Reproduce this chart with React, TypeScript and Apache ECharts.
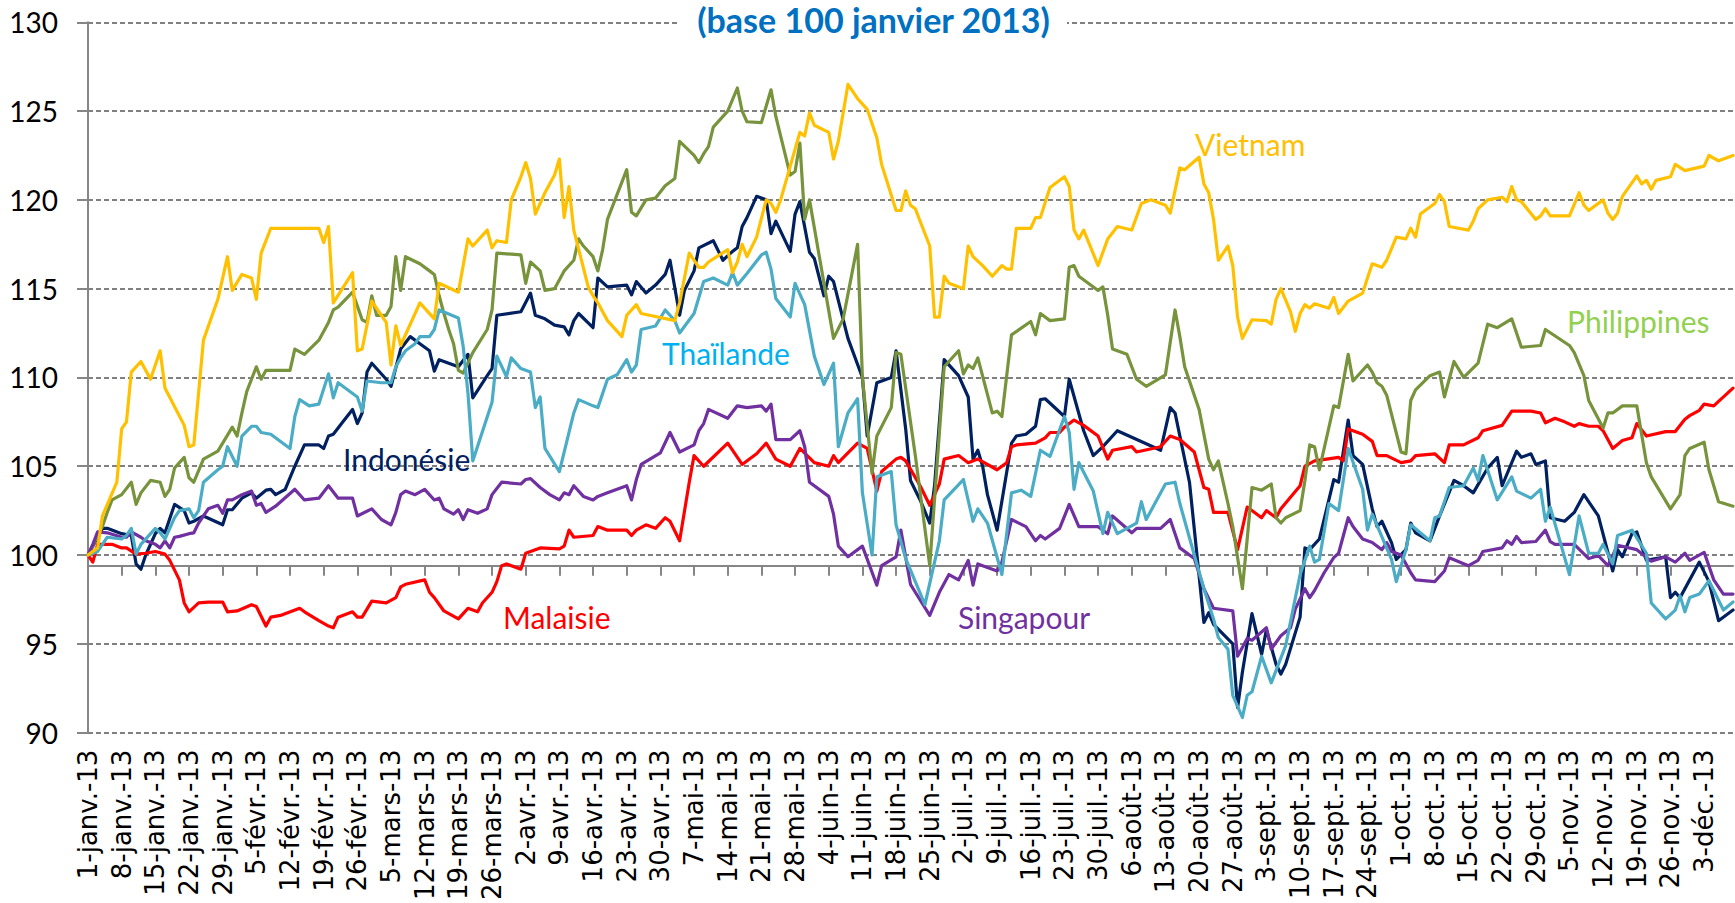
import React, { useEffect, useRef } from "react";
import * as echarts from "echarts";

// Axe des x : jours écoulés depuis le 1er janvier 2013 (0 = 1-janv.-13)
const tickLabels = [
  "1-janv.-13", "8-janv.-13", "15-janv.-13", "22-janv.-13", "29-janv.-13",
  "5-févr.-13", "12-févr.-13", "19-févr.-13", "26-févr.-13",
  "5-mars-13", "12-mars-13", "19-mars-13", "26-mars-13",
  "2-avr.-13", "9-avr.-13", "16-avr.-13", "23-avr.-13", "30-avr.-13",
  "7-mai-13", "14-mai-13", "21-mai-13", "28-mai-13",
  "4-juin-13", "11-juin-13", "18-juin-13", "25-juin-13",
  "2-juil.-13", "9-juil.-13", "16-juil.-13", "23-juil.-13", "30-juil.-13",
  "6-août-13", "13-août-13", "20-août-13", "27-août-13",
  "3-sept.-13", "10-sept.-13", "17-sept.-13", "24-sept.-13",
  "1-oct.-13", "8-oct.-13", "15-oct.-13", "22-oct.-13", "29-oct.-13",
  "5-nov.-13", "12-nov.-13", "19-nov.-13", "26-nov.-13", "3-déc.-13",
];
const DAYS_PER_TICK = 7;
const LAST_DAY = 342; // 9 décembre 2013

const yTicks = { min: 90, max: 130, step: 5 };

// [jour, indice base 100]
const indonesie: [number, number][] = [
  [0,100],[3,101.5],[4,101.5],[7,101.2],[9,101.1],[10,99.5],[11,99.2],[12,100.0],[14,101.2],[15,101.5],[16,101.25],[18,102.85],[20,102.5],[21,101.8],[22,101.9],[24,102.2],[28,101.7],[29,102.55],[30,102.55],[32,103.2],[34,103.5],[35,103.2],[37,103.65],[38,103.7],[39,103.4],[41,103.7],[43,105.0],[45,106.2],[48,106.2],[49,106.0],[50,106.7],[51,106.8],[53,107.5],[55,108.2],[56,107.4],[57,108.0],[58,110.3],[59,110.8],[62,109.9],[63,109.5],[65,111.6],[67,112.3],[69,111.9],[71,111.5],[72,110.35],[73,111.0],[76,110.7],[77,110.6],[79,111.3],[80,108.85],[83,110.1],[84,110.5],[85,113.5],[90,113.7],[92,114.75],[93,113.5],[95,113.3],[97,112.95],[99,112.85],[100,112.4],[101,113.2],[102,113.6],[105,112.8],[106,115.6],[108,115.1],[112,115.2],[113,114.65],[114,115.4],[116,114.75],[118,115.2],[120,115.8],[121,116.6],[123,113.5],[124,114.9],[126,116.0],[127,117.3],[130,117.7],[132,116.6],[134,117.1],[135,117.3],[136,118.5],[137,119.0],[139,120.2],[141,120.0],[142,118.1],[143,118.8],[146,117.1],[147,119.2],[148,119.9],[150,117.05],[151,116.7],[153,114.6],[154,115.7],[155,115.4],[158,112.2],[161,110.0],[162,106.7],[164,109.7],[167,110.0],[168,111.5],[170,107.1],[171,104.2],[173,103.1],[175,101.8],[176,103.9],[178,111.0],[181,110.1],[183,108.9],[184,105.4],[185,105.9],[186,105.0],[187,103.4],[189,101.4],[192,106.3],[193,106.7],[195,106.8],[197,107.25],[198,108.75],[199,108.8],[203,107.8],[204,109.9],[207,107.0],[209,105.6],[211,106.1],[214,107.0],[223,105.9],[225,108.3],[226,108.0],[229,104.1],[232,96.2],[233,96.75],[234,96.1],[238,95.0],[239,91.4],[240,93.4],[242,96.7],[244,94.4],[245,95.8],[247,93.85],[248,93.3],[249,93.85],[252,96.5],[253,100.4],[254,100.3],[256,100.9],[259,104.25],[260,104.1],[262,107.6],[263,105.6],[265,105.1],[267,102.6],[268,101.6],[269,101.9],[271,100.7],[272,99.75],[274,100.3],[275,101.8],[276,101.25],[279,100.8],[281,102.2],[284,104.2],[286,103.9],[288,103.5],[291,104.9],[293,105.5],[294,103.9],[297,105.85],[298,105.5],[300,105.7],[301,105.1],[303,105.3],[304,102.1],[307,101.9],[309,102.4],[311,103.4],[314,102.2],[317,99.1],[318,100.3],[319,99.9],[321,101.2],[322,101.3],[324,99.7],[328,99.9],[329,97.6],[330,97.9],[331,97.6],[335,99.6],[337,98.5],[339,96.3],[342,96.9],
];

const malaisie: [number, number][] = [
  [0,100],[1,99.6],[2,100.6],[5,100.6],[7,100.4],[8,100.4],[10,100.05],[12,100.1],[14,100.2],[16,100.05],[17,99.7],[19,98.6],[20,97.3],[21,96.8],[23,97.3],[25,97.35],[28,97.35],[29,96.8],[31,96.85],[34,97.2],[35,97.1],[37,96.0],[38,96.5],[40,96.6],[44,97.0],[45,96.8],[48,96.3],[50,96.0],[51,95.9],[52,96.5],[55,96.8],[56,96.5],[57,96.5],[59,97.4],[62,97.3],[64,97.6],[65,98.2],[66,98.35],[70,98.6],[71,97.9],[72,97.6],[74,96.85],[77,96.4],[78,96.7],[79,97.0],[80,96.9],[81,96.8],[82,97.3],[84,97.9],[85,98.5],[86,99.4],[87,99.5],[90,99.2],[91,100.1],[92,100.2],[94,100.4],[98,100.35],[99,100.5],[100,101.4],[101,101.0],[105,101.1],[106,101.6],[108,101.4],[112,101.4],[113,101.1],[114,101.4],[116,101.7],[118,101.5],[120,102.1],[121,101.9],[123,100.8],[125,104.1],[126,105.6],[128,105.0],[133,106.3],[136,105.1],[139,105.7],[141,106.3],[143,105.4],[146,105.0],[148,106.0],[151,105.2],[154,105.0],[155,105.6],[156,105.2],[160,106.3],[162,106.0],[164,103.6],[165,104.7],[168,105.4],[169,105.5],[170,105.3],[173,103.9],[175,102.8],[177,104.0],[178,105.4],[181,105.6],[183,105.2],[185,105.4],[189,104.8],[191,105.2],[192,106.1],[193,106.2],[197,106.3],[199,106.6],[200,106.9],[202,106.9],[203,107.2],[205,107.6],[207,107.3],[210,106.7],[212,105.4],[213,105.9],[217,106.1],[218,105.8],[223,106.1],[225,106.7],[227,106.5],[230,105.8],[232,103.8],[233,103.7],[234,102.4],[237,102.4],[239,100.3],[241,102.7],[244,102.1],[245,102.5],[247,102.1],[248,102.6],[252,103.9],[253,105.0],[255,105.3],[260,105.5],[261,105.3],[262,107.1],[265,106.8],[267,106.4],[268,105.6],[270,105.6],[273,105.2],[275,105.3],[276,105.6],[280,105.7],[282,105.2],[283,106.2],[286,106.2],[289,106.6],[290,107.0],[294,107.3],[296,108.1],[300,108.1],[302,108.0],[303,107.45],[305,107.7],[307,107.5],[309,107.25],[310,107.4],[312,107.25],[314,107.25],[315,107.0],[317,106.0],[319,106.45],[321,106.6],[322,107.4],[324,106.7],[328,106.95],[330,106.95],[332,107.65],[333,107.85],[335,108.15],[336,108.5],[338,108.4],[339,108.65],[342,109.4],
];

const philippines: [number, number][] = [
  [0,100],[3,101.6],[4,102.4],[5,103.1],[7,103.4],[9,104.1],[10,102.85],[11,103.5],[13,104.2],[15,104.1],[16,103.3],[17,103.7],[18,104.9],[20,105.5],[21,104.35],[22,104.1],[24,105.4],[27,105.85],[30,107.2],[31,106.7],[32,108.0],[33,109.2],[35,110.6],[36,109.9],[37,110.4],[42,110.4],[43,111.6],[45,111.3],[48,112.1],[50,113.1],[51,113.8],[52,113.96],[55,114.8],[57,113.25],[58,113.1],[59,114.6],[60,113.5],[62,113.5],[63,114.0],[64,116.8],[65,114.9],[66,116.8],[69,116.4],[71,116.0],[72,115.8],[73,114.6],[74,113.6],[75,112.7],[76,111.9],[77,110.4],[78,110.25],[80,111.4],[83,112.7],[84,113.8],[85,117.0],[90,116.9],[91,115.3],[92,116.5],[94,116.0],[95,114.9],[97,115.0],[99,116.0],[101,116.6],[102,117.8],[103,117.4],[105,116.8],[106,116.0],[107,117.2],[108,118.9],[112,121.7],[113,119.3],[114,119.1],[116,120.0],[118,120.1],[120,120.8],[122,121.2],[123,123.3],[126,122.5],[127,122.1],[128,122.6],[129,123.0],[130,124.1],[133,125.0],[135,126.3],[136,125.0],[137,124.4],[140,124.35],[142,126.2],[143,124.7],[146,121.4],[147,121.6],[148,123.2],[149,118.9],[150,120.0],[155,112.2],[157,113.3],[160,117.5],[161,110.0],[163,104.6],[164,106.7],[167,108.3],[168,111.4],[169,111.3],[172,105.6],[175,99.4],[178,110.6],[181,111.5],[182,110.2],[183,110.7],[184,110.5],[185,111.1],[188,108.0],[189,108.1],[190,107.8],[192,112.4],[196,113.15],[197,112.4],[198,113.6],[200,113.2],[203,113.3],[204,116.2],[205,116.3],[206,115.7],[210,114.9],[211,115.1],[212,113.5],[213,111.6],[216,111.3],[218,109.9],[220,109.5],[224,110.15],[226,113.8],[227,112.3],[228,110.6],[231,108.2],[233,105.4],[234,104.8],[235,105.3],[237,102.9],[238,101.6],[240,98.1],[241,100.9],[242,103.8],[244,103.65],[246,104.0],[247,102.1],[248,101.8],[249,102.1],[252,102.5],[253,104.2],[254,106.2],[255,106.1],[256,104.8],[259,108.4],[260,108.3],[262,111.3],[263,109.8],[266,110.7],[267,110.3],[268,109.7],[269,109.5],[270,109.0],[273,105.8],[274,105.7],[275,108.7],[276,109.3],[279,110.1],[281,110.3],[282,108.9],[284,110.9],[286,110.0],[289,110.8],[291,113.0],[293,112.8],[296,113.3],[298,111.7],[302,111.8],[303,112.7],[308,111.8],[309,111.4],[311,110.1],[312,108.7],[315,107.15],[316,108.0],[317,108.0],[319,108.4],[322,108.4],[324,105.2],[325,104.4],[329,102.6],[331,103.4],[332,105.6],[333,106.0],[336,106.35],[337,104.8],[339,103.0],[342,102.75],
];

const singapour: [number, number][] = [
  [0,100],[1,100.6],[2,101.3],[4,101.25],[7,101.0],[8,101.0],[9,101.3],[11,101.0],[12,100.8],[14,100.6],[15,100.4],[16,100.8],[17,100.4],[18,101.0],[19,101.05],[21,101.2],[22,101.25],[23,101.8],[25,102.6],[27,102.8],[28,102.35],[29,103.1],[30,103.1],[32,103.4],[34,103.6],[35,102.8],[36,102.9],[37,102.4],[39,102.75],[43,103.7],[45,103.1],[48,103.2],[50,103.9],[52,103.2],[55,103.2],[56,102.2],[59,102.6],[61,102.0],[63,101.7],[64,102.4],[65,103.4],[66,103.6],[68,103.4],[70,103.7],[72,103.1],[73,103.2],[74,102.6],[76,102.3],[77,102.55],[78,102.0],[79,102.55],[81,102.35],[83,102.6],[84,103.4],[86,104.1],[90,104.0],[91,104.25],[92,104.3],[94,103.8],[96,103.4],[98,103.1],[99,103.5],[100,103.4],[101,103.9],[103,103.3],[105,103.1],[106,103.3],[108,103.5],[112,103.9],[113,103.1],[114,104.25],[115,105.1],[119,105.75],[121,106.9],[123,105.8],[126,106.2],[127,107.0],[128,107.4],[129,108.2],[133,107.7],[135,108.4],[137,108.3],[140,108.4],[141,108.1],[142,108.5],[143,106.5],[146,106.5],[148,107.0],[149,106.1],[150,104.1],[154,103.3],[155,102.3],[156,100.5],[158,99.9],[161,100.5],[164,98.3],[165,99.4],[168,99.9],[169,101.4],[171,98.35],[172,97.9],[175,96.6],[177,97.9],[179,98.9],[181,98.6],[183,99.7],[184,98.3],[185,99.5],[189,99.1],[190,99.6],[192,102.0],[195,101.6],[197,100.8],[198,101.1],[199,100.9],[202,101.5],[204,102.85],[206,101.6],[210,101.6],[212,101.2],[213,102.2],[217,101.25],[218,101.5],[223,101.5],[225,102.0],[227,100.4],[230,99.8],[232,98.1],[234,97.0],[238,96.85],[239,94.3],[241,95.3],[242,95.2],[245,95.9],[246,94.7],[248,95.45],[250,95.9],[251,96.95],[253,98.1],[254,97.6],[255,98.0],[257,99.0],[259,99.85],[260,100.1],[262,102.1],[263,101.6],[265,100.9],[267,100.7],[269,100.3],[270,100.7],[271,100.2],[273,100.0],[275,99.0],[276,98.6],[280,98.5],[282,99.1],[283,99.85],[287,99.4],[289,99.7],[290,100.2],[294,100.4],[295,100.8],[296,100.6],[297,101.05],[298,100.7],[301,100.76],[303,101.4],[304,100.76],[305,100.6],[309,100.6],[312,99.8],[314,99.96],[316,99.4],[318,100.55],[322,100.3],[325,99.65],[328,99.9],[330,99.6],[332,100.1],[333,99.7],[336,100.15],[338,98.6],[340,97.8],[342,97.8],
];

const thailande: [number, number][] = [
  [0,100],[2,100.2],[3,100.6],[4,101.0],[7,100.9],[8,101.1],[9,101.5],[10,100.05],[11,100.6],[14,101.5],[15,101.25],[16,100.9],[18,102.1],[19,102.5],[21,102.6],[22,102.1],[23,102.5],[24,104.1],[27,104.8],[28,105.0],[29,106.1],[31,105.0],[32,106.7],[34,107.25],[35,107.25],[36,106.9],[38,106.8],[42,106.0],[43,107.8],[44,108.75],[46,108.4],[48,108.5],[50,110.2],[51,108.85],[52,109.7],[56,108.9],[57,108.1],[58,109.8],[61,109.7],[63,109.7],[64,110.6],[65,111.1],[66,111.5],[68,111.9],[69,112.3],[71,112.3],[72,112.7],[73,113.8],[77,113.35],[78,111.75],[79,109.1],[80,105.3],[84,108.6],[85,111.2],[87,110.05],[88,111.1],[90,110.5],[92,110.3],[93,108.3],[94,108.9],[95,106.0],[98,104.7],[101,108.0],[102,108.75],[105,108.4],[106,108.3],[108,109.9],[110,110.15],[112,111.0],[113,110.3],[114,110.7],[115,112.7],[118,112.9],[120,113.8],[122,113.2],[123,112.5],[126,113.6],[128,115.4],[130,115.6],[133,115.2],[134,115.9],[135,115.2],[137,115.85],[140,116.9],[141,117.05],[142,116.1],[143,114.45],[146,113.4],[147,115.3],[149,114.1],[151,111.2],[153,109.6],[155,110.8],[156,106.1],[158,108.0],[160,108.8],[161,103.5],[163,100.0],[164,104.4],[167,104.7],[168,101.7],[170,99.8],[174,97.2],[177,100.8],[178,103.1],[182,104.25],[184,101.9],[185,102.6],[187,101.8],[190,98.9],[192,103.5],[194,103.65],[196,103.3],[198,105.9],[200,105.55],[203,107.8],[204,106.9],[205,103.7],[206,105.2],[209,103.6],[211,101.2],[212,102.4],[214,101.2],[218,101.8],[219,103.0],[220,102.0],[224,104.0],[226,104.1],[227,102.9],[230,100.0],[232,98.1],[234,96.4],[235,95.35],[237,94.7],[238,92.1],[240,90.85],[241,92.1],[242,92.3],[244,94.3],[246,92.8],[249,94.9],[252,98.9],[254,100.5],[255,99.6],[256,99.75],[258,102.9],[260,102.5],[262,106.0],[265,103.7],[266,101.4],[267,102.3],[271,99.75],[272,98.5],[274,100.3],[275,101.7],[279,100.8],[280,102.1],[281,102.2],[283,103.8],[286,103.9],[288,104.9],[289,104.2],[290,105.6],[293,103.1],[296,104.4],[297,103.6],[300,103.2],[302,103.7],[303,101.9],[304,102.7],[308,98.9],[310,102.2],[312,100.1],[314,100.1],[315,100.6],[317,99.5],[318,101.1],[321,101.4],[324,100.1],[325,97.3],[328,96.4],[330,96.9],[331,97.7],[332,96.8],[333,97.6],[335,97.8],[337,98.55],[340,96.9],[342,97.35],
];

const vietnam: [number, number][] = [
  [0,100],[2,100.4],[3,102.2],[6,104.1],[7,107.1],[8,107.5],[9,110.3],[11,110.9],[13,109.9],[15,111.5],[16,109.4],[20,107.3],[21,106.1],[22,106.2],[24,112.1],[27,114.4],[29,116.8],[30,114.9],[32,115.8],[34,115.6],[35,114.4],[36,117.0],[38,118.4],[48,118.4],[49,117.6],[50,118.5],[51,114.2],[55,115.9],[56,111.5],[57,111.6],[59,114.3],[62,113.1],[63,110.7],[64,112.9],[65,111.8],[69,114.2],[72,113.3],[73,115.3],[77,114.8],[79,117.8],[80,117.4],[83,118.3],[84,117.3],[85,117.7],[87,117.6],[88,120.0],[90,121.3],[91,122.1],[92,121.2],[93,119.2],[95,120.4],[97,121.4],[98,122.3],[99,119.0],[100,120.75],[101,118.3],[104,115.1],[105,114.6],[106,114.2],[108,113.2],[111,112.3],[112,113.5],[114,114.1],[115,113.6],[122,113.2],[123,114.2],[125,117.0],[127,116.2],[128,116.2],[129,116.5],[133,117.2],[134,115.9],[135,116.5],[136,117.5],[137,116.8],[139,117.9],[141,120.0],[142,119.8],[143,119.3],[144,120.0],[148,123.8],[149,123.6],[150,124.9],[151,124.2],[154,123.8],[155,122.3],[156,123.3],[158,126.5],[160,125.7],[162,125.1],[164,123.5],[165,122.0],[168,119.4],[169,119.4],[170,120.5],[171,119.7],[172,119.5],[175,117.4],[176,113.4],[177,113.4],[178,115.7],[179,115.3],[182,115.0],[183,117.4],[184,116.8],[186,116.3],[188,115.7],[190,116.3],[191,116.1],[192,116.1],[193,118.4],[196,118.4],[197,119.0],[198,119.0],[200,120.7],[203,121.3],[204,120.75],[205,118.3],[206,117.8],[207,118.3],[210,116.3],[212,117.8],[214,118.5],[217,118.3],[219,119.8],[221,120.0],[224,119.7],[225,119.25],[227,121.8],[228,121.7],[231,122.4],[232,120.9],[233,120.4],[234,118.9],[235,116.6],[237,117.4],[238,116.3],[239,113.4],[240,112.2],[242,113.25],[245,113.2],[246,113.0],[247,114.4],[248,115.0],[250,113.7],[251,112.6],[252,113.6],[253,114.1],[254,113.9],[255,114.15],[258,113.9],[259,114.5],[260,113.6],[262,114.3],[265,114.75],[266,115.6],[267,116.4],[269,116.2],[270,116.6],[272,117.9],[274,117.8],[275,118.4],[276,117.9],[277,119.2],[280,119.8],[281,120.3],[282,119.9],[283,118.5],[287,118.3],[288,118.8],[289,119.5],[291,120.0],[294,120.15],[295,119.9],[296,120.75],[297,120.0],[298,119.9],[301,118.9],[302,119.1],[303,119.5],[304,119.1],[308,119.1],[310,120.4],[311,119.7],[312,119.4],[315,120.0],[316,119.25],[317,118.9],[318,119.25],[319,120.2],[322,121.35],[323,120.9],[324,121.1],[325,120.6],[326,121.1],[329,121.3],[330,122.0],[332,121.65],[336,121.9],[337,122.5],[339,122.2],[342,122.5],
];

const seriesList = [
  { name: "Indonésie", data: indonesie },
  { name: "Malaisie", data: malaisie },
  { name: "Philippines", data: philippines },
  { name: "Singapour", data: singapour },
  { name: "Thaïlande", data: thailande },
  { name: "Vietnam", data: vietnam },
];

const lineColors: Record<string, string> = {
  "Indonésie": "#002060",
  "Malaisie": "#FF0000",
  "Philippines": "#77933C",
  "Singapour": "#7030A0",
  "Thaïlande": "#4BACC6",
  "Vietnam": "#FFC000",
};

const labelStyles: { name: string; x: number; y: number; color: string }[] = [
  { name: "Vietnam", x: 1195, y: 144, color: "#FFC000" },
  { name: "Philippines", x: 1567, y: 321, color: "#92D050" },
  { name: "Thaïlande", x: 662, y: 353, color: "#00B0F0" },
  { name: "Indonésie", x: 343, y: 459, color: "#002060" },
  { name: "Malaisie", x: 503, y: 617, color: "#FF0000" },
  { name: "Singapour", x: 958, y: 617, color: "#7030A0" },
];

const W = 1735;
const H = 903;
const GRID_LEFT = 88;
const GRID_RIGHT = 2;
const GRID_TOP = 22.3;
const GRID_BOTTOM = H - 733.7;
const PLOT_H = H - GRID_TOP - GRID_BOTTOM;

export default function App() {
  const ref = useRef<HTMLDivElement | null>(null);

  useEffect(() => {
    if (!ref.current) return;
    const chart = echarts.init(ref.current, undefined, { renderer: "svg", width: W, height: H });

    const tickDays = tickLabels.map((_, i) => i * DAYS_PER_TICK);
    const y100 = GRID_TOP + ((yTicks.max - 100) / (yTicks.max - yTicks.min)) * PLOT_H;
    const grey = "#868686";

    const option: any = {
      animation: false,
      backgroundColor: "#ffffff",
      grid: [
        { left: GRID_LEFT, right: GRID_RIGHT, top: GRID_TOP, bottom: GRID_BOTTOM },
        { left: GRID_LEFT, right: GRID_RIGHT, top: y100, height: 10 },
      ],
      xAxis: [
        {
          type: "value",
          gridIndex: 0,
          min: 0,
          max: LAST_DAY,
          interval: DAYS_PER_TICK,
          axisLine: { show: false },
          axisTick: { show: false },
          splitLine: { show: false },
          axisLabel: {
            customValues: tickDays,
            formatter: (v: number) => tickLabels[Math.round(v / DAYS_PER_TICK)] ?? "",
            rotate: 90,
            margin: 17,
            fontFamily: "DejaVu Sans",
            fontSize: 26,
            color: "#000000",
          },
        },
        {
          type: "value",
          gridIndex: 1,
          position: "top",
          min: 0,
          max: LAST_DAY,
          interval: DAYS_PER_TICK,
          axisLine: { show: true, lineStyle: { color: grey, width: 2 } },
          axisTick: {
            show: true,
            inside: true,
            length: 10,
            customValues: tickDays,
            lineStyle: { color: grey, width: 2 },
          },
          axisLabel: { show: false },
          splitLine: { show: false },
        },
      ],
      yAxis: [
        {
          type: "value",
          gridIndex: 0,
          min: yTicks.min,
          max: yTicks.max,
          interval: yTicks.step,
          axisLine: { show: true, lineStyle: { color: grey, width: 2 } },
          axisTick: { show: true, length: 11, lineStyle: { color: grey, width: 2 } },
          axisLabel: { margin: 30, fontFamily: "Lato", fontSize: 28, color: "#000000" },
          splitLine: { show: true, lineStyle: { color: "#808080", width: 1.8, type: [5, 3] } },
        },
        { type: "value", gridIndex: 1, min: 0, max: 1, show: false },
      ],
      series: seriesList.map((s, i) => ({
        name: s.name,
        type: "line",
        xAxisIndex: 0,
        yAxisIndex: 0,
        data: s.data,
        showSymbol: false,
        symbol: "none",
        silent: true,
        z: 2 + i,
        lineStyle: { color: lineColors[s.name], width: 3.2, join: "round", cap: "round" },
        itemStyle: { color: lineColors[s.name] },
      })),
      graphic: [
        {
          type: "rect",
          z: 50,
          shape: { x: 680, y: 4, width: 387, height: 32 },
          style: { fill: "#ffffff" },
        },
        {
          type: "text",
          z: 51,
          x: 873.5,
          y: 2,
          style: {
            text: "(base 100 janvier 2013)",
            font: "bold 34px Lato",
            lineHeight: 34,
            fill: "#0070C0",
            align: "center",
            textAlign: "center",
            verticalAlign: "top",
            textVerticalAlign: "top",
          },
        },
        ...labelStyles.map((l) => ({
          type: "text",
          z: 60,
          x: l.x,
          y: l.y,
          style: {
            text: l.name,
            font: "30px Lato",
            fill: l.color,
            align: "left",
            textAlign: "left",
            verticalAlign: "middle",
            textVerticalAlign: "middle",
          },
        })),
      ],
    };

    chart.setOption(option);
    return () => chart.dispose();
  }, []);

  return (
    <div
      ref={ref}
      style={{ position: "absolute", left: 0, top: 0, width: W, height: H, background: "#fff" }}
    />
  );
}
